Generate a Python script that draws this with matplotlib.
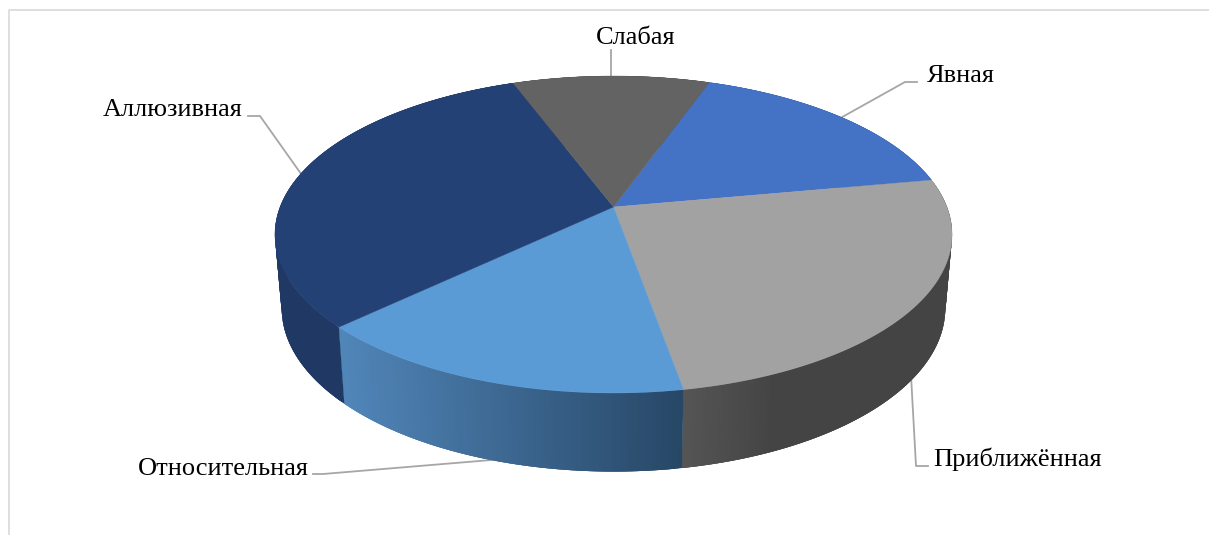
import numpy as np
import matplotlib
matplotlib.use('Agg')
import matplotlib.pyplot as plt
from matplotlib.colors import to_rgb

labels = ['Явная', 'Приближённая', 'Относительная', 'Аллюзивная', 'Слабая']
values = [16.7, 25.1, 15.7, 31.4, 11.1]
colors = ['#4472c4', '#a2a2a2', '#5b9bd5', '#244175', '#636363']

# side colours: gradient left/right pixel range and colours
side_grad = [
    (0, 1, '#2f5597', '#2f5597'),
    (683, 775, '#555555', '#444444'),
    (345, 683, '#5085b8', '#274766'),
    (275, 345, '#1f3864', '#1f3864'),
    (0, 1, '#3f3f3f', '#3f3f3f'),
]

# label placement (text left x, text y, elbow x, elbow y, line end x)
label_pos = [
    (927, 76, 905, 82, 917),
    (933, 459, 916, 466, 928),
    (138, 469, 323, 474, 313),
    (103, 110, 260, 116, 248),
    (596, 38, None, 50, None),
]
on_bottom = [False, True, True, False, False]

# projection of the pie disc
cx, cy = 613.5, 207
a, b, k = 333.4, 153.7, 0.1735
a2, b2, dy = 0.98, 1.03, 73
start = 19.5


def top_rim(ang):
    t = np.radians(ang)
    x, y = np.sin(t), np.cos(t)
    w = 1 + k * y
    return cx + a * x / w, cy - b * y / w


def low_rim(ang):
    t = np.radians(ang)
    x, y = np.sin(t), np.cos(t)
    w = 1 + k * y
    return cx + a2 * a * x / w, cy + dy - b2 * b * y / w


fig = plt.figure(figsize=(12.09, 5.35), dpi=100)
ax = fig.add_axes([0, 0, 1, 1])
ax.set_xlim(0, 1209)
ax.set_ylim(535, 0)
ax.axis('off')

# chart frame
ax.plot([1209, 8.5, 8.5], [9.5, 9.5, 535], color='#d9d9d9', lw=1.2, zorder=1)

bounds = start + np.cumsum([0] + values) / sum(values) * 360
mids = (bounds[:-1] + bounds[1:]) / 2

# side wall, each strip runs a little over the next one so no seams show
step = 0.5
for i in range(len(values)):
    angs = np.arange(bounds[i], bounds[i + 1], step)
    x0, x1, c0, c1 = side_grad[i]
    for p in angs:
        end = min(p + 3 * step, bounds[i + 1])
        seg = np.linspace(p, end, 5)
        xt, yt = top_rim(seg)
        xb, yb = low_rim(seg)
        f = np.clip((top_rim(p + step / 2)[0] - x0) / (x1 - x0), 0, 1)
        c = (1 - f) * np.array(to_rgb(c0)) + f * np.array(to_rgb(c1))
        ax.fill(np.r_[xt, xb[::-1]], np.r_[yt, yb[::-1]], facecolor=c, lw=0, zorder=3)

# top face
for i in range(len(values)):
    angs = np.linspace(bounds[i], bounds[i + 1], 200)
    xs, ys = top_rim(angs)
    ax.fill(np.r_[cx, xs], np.r_[cy, ys], color=colors[i], lw=0.3, zorder=4)

# leader lines and labels
for i, name in enumerate(labels):
    tx, ty, ex, ey, lx = label_pos[i]
    px, py = low_rim(mids[i]) if on_bottom[i] else top_rim(mids[i])
    if ex is None:
        ax.plot([px, px], [py, ey], color='#a6a6a6', lw=1.3, zorder=2)
    else:
        ax.plot([px, ex, lx], [py, ey, ey], color='#a6a6a6', lw=1.3, zorder=2)
    ax.text(tx, ty, name, family='Liberation Serif', fontsize=19,
            color='black', ha='left', va='center', zorder=5)

plt.savefig('out.png', dpi=100)
